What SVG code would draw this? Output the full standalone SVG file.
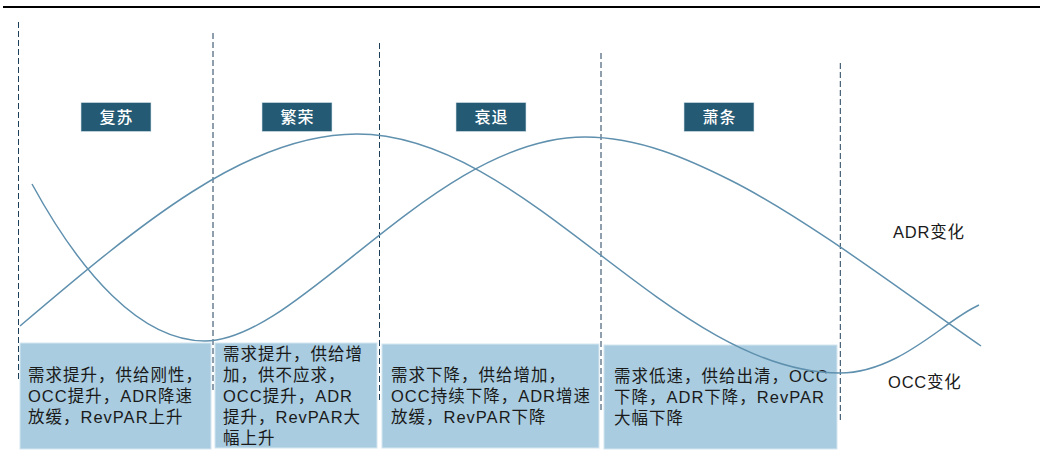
<svg xmlns="http://www.w3.org/2000/svg" width="1043" height="459" viewBox="0 0 1043 459">
<style>
.vline{stroke:#1e3f5a;stroke-width:1;stroke-dasharray:6,3;fill:none}
.curve{stroke:#5f90ae;stroke-width:1.5;fill:none}
.tag{fill:#245a73;stroke:#d7e3ea;stroke-width:0.6}
.tagt{fill:#ffffff;font-family:"Noto Sans CJK SC","Noto Sans CJK TC",sans-serif;font-size:16px;font-weight:500;text-anchor:middle;letter-spacing:1px}
.box{fill:#a9cce0;stroke:#d4e6f0;stroke-width:1}
.bt{fill:#1a1a1a;font-family:"Liberation Sans","Noto Sans CJK SC",sans-serif;font-size:16.5px;letter-spacing:1px}
.lbl{fill:#1a1a1a;font-family:"Liberation Sans","Noto Sans CJK SC",sans-serif;font-size:16.5px;letter-spacing:0.8px}
</style>
<rect x="0" y="0" width="1043" height="459" fill="#ffffff"/>
<line x1="3" y1="7" x2="1040" y2="7" stroke="#000000" stroke-width="2"/>

<g id="phase-lines">
<line class="vline" x1="18.5" y1="22" x2="18.5" y2="380"/>
<line class="vline" x1="213" y1="33" x2="213" y2="390"/>
<line class="vline" x1="379.5" y1="43" x2="379.5" y2="401"/>
<line class="vline" x1="601" y1="53" x2="601" y2="410"/>
<line class="vline" x1="840.3" y1="63" x2="840.3" y2="420"/>
</g>

<g id="tag-fusu"><rect class="tag" x="81" y="102.5" width="70" height="29"/><text class="tagt" x="116.5" y="122.5">复苏</text></g>
<g id="tag-fanrong"><rect class="tag" x="262" y="102.5" width="70" height="29"/><text class="tagt" x="297.5" y="122.5">繁荣</text></g>
<g id="tag-shuaitui"><rect class="tag" x="456" y="102.5" width="70" height="29"/><text class="tagt" x="491.5" y="122.5">衰退</text></g>
<g id="tag-xiaotiao"><rect class="tag" x="684" y="102.5" width="70" height="29"/><text class="tagt" x="719.5" y="122.5">萧条</text></g>

<g id="box-1"><rect class="box" x="20" y="343" width="191" height="106"/>
<text class="bt" x="28"><tspan x="28" y="381">需求提升，供给刚性，</tspan><tspan x="28" y="402">OCC提升，ADR降速</tspan><tspan x="28" y="423">放缓，RevPAR上升</tspan></text></g>
<g id="box-2"><rect class="box" x="215" y="343" width="162" height="105"/>
<text class="bt" x="223"><tspan x="223" y="360">需求提升，供给增</tspan><tspan x="223" y="381">加，供不应求，</tspan><tspan x="223" y="402">OCC提升，ADR</tspan><tspan x="223" y="423">提升，RevPAR大</tspan><tspan x="223" y="444">幅上升</tspan></text></g>
<g id="box-3"><rect class="box" x="382" y="344" width="217" height="104"/>
<text class="bt" x="391"><tspan x="391" y="381">需求下降，供给增加，</tspan><tspan x="391" y="402">OCC持续下降，ADR增速</tspan><tspan x="391" y="423">放缓，RevPAR下降</tspan></text></g>
<g id="box-4"><rect class="box" x="604" y="345" width="233" height="104"/>
<text class="bt" x="614"><tspan x="614" y="382">需求低速，供给出清，OCC</tspan><tspan x="614" y="403">下降，ADR下降，RevPAR</tspan><tspan x="614" y="424">大幅下降</tspan></text></g>

<g id="connectors">
<path id="curve-occ" class="curve" d="M20,326 C140,224 247,134 357,134 C527,134 670,373 840,373 C880,373 915,348 940,330 C955,319 968,310 979,305"/>
<path id="curve-adr" class="curve" d="M32,184 C80,272 140,341 205,341 C300,341 435,137 585,137 C640,137 690,160 730,180 C810,220 921,305 981,346"/>
</g>

<g id="label-adr"><text class="lbl" x="893" y="238">ADR变化</text></g>
<g id="label-occ"><text class="lbl" x="888" y="388">OCC变化</text></g>
</svg>
